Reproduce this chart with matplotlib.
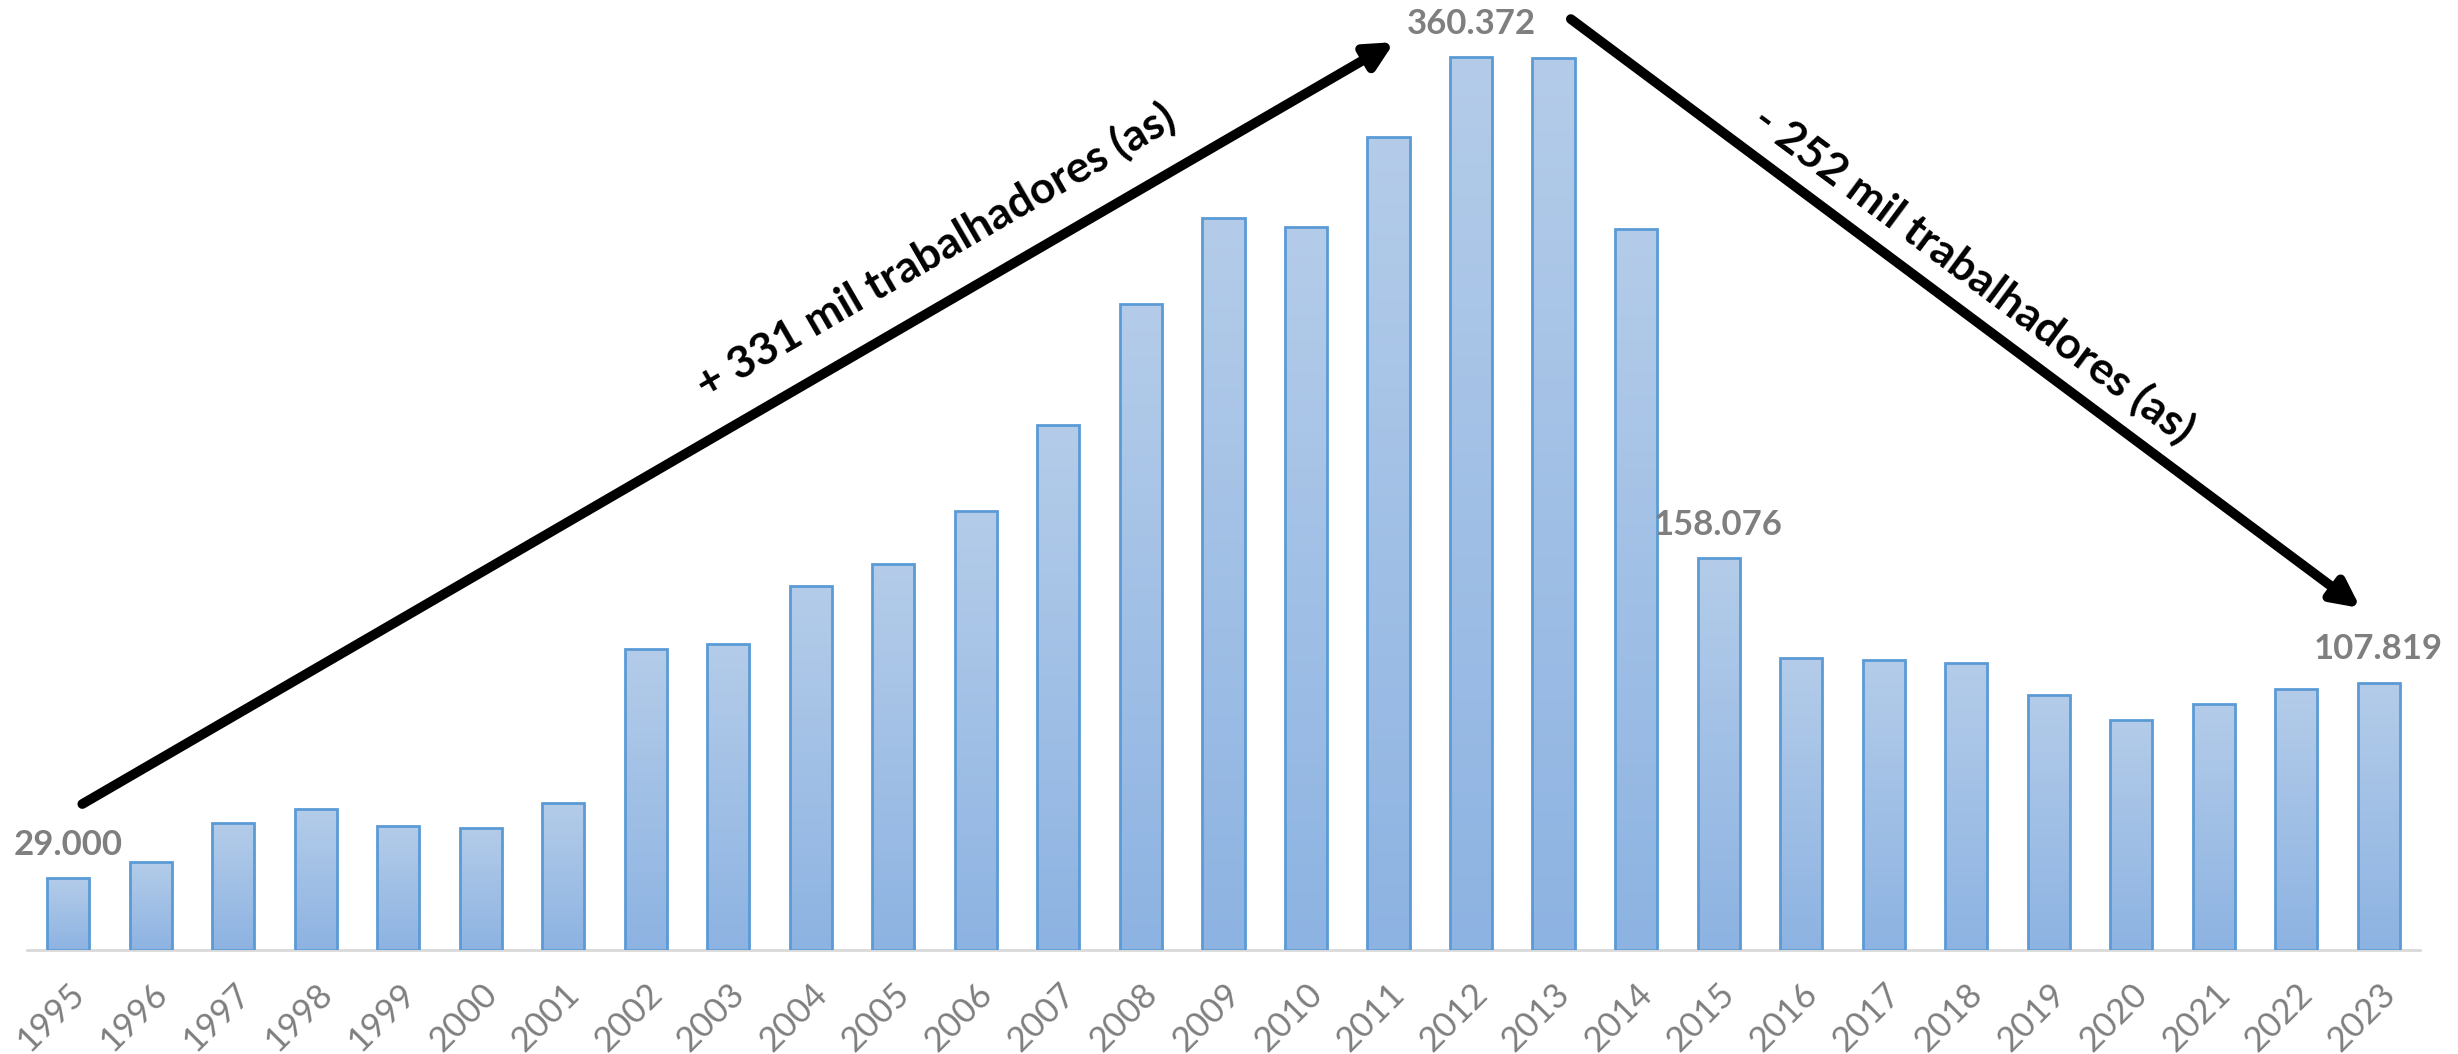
import numpy as np
import matplotlib.pyplot as plt
from matplotlib.colors import LinearSegmentedColormap

plt.rcParams['font.family'] = ['Lato', 'DejaVu Sans']

# dados: trabalhadores(as) por ano
anos = [str(a) for a in range(1995, 2024)]
valores = [29000, 35400, 51200, 56900, 50000, 49300, 59500, 121500, 123400,
           146800, 155600, 177100, 211900, 260600, 295400, 291600, 328300,
           360372, 359800, 291000, 158076, 117700, 117000, 115800, 103100,
           93000, 99300, 105500, 107819]
destaques = [0, 17, 20, 28]  # barras com rotulo

fig = plt.figure(figsize=(24.58, 10.54), dpi=100)
ax = fig.add_axes([0.011, 0.0987, 0.9735, 0.9013])

x = np.arange(len(valores))
bars = ax.bar(x, valores, width=0.51, color='none', edgecolor='#5b9bd5', linewidth=2, zorder=3)

# gradiente vertical dentro das barras
cmap = LinearSegmentedColormap.from_list('grad', ['#8db3e2', '#b4cce9'])
grad = np.linspace(0, 1, 256).reshape(-1, 1)
for b in bars:
    x0, w, h = b.get_x(), b.get_width(), b.get_height()
    im = ax.imshow(grad, cmap=cmap, origin='lower', aspect='auto',
                   extent=[x0, x0 + w, 0, h], zorder=2)
    im.set_clip_path(b)

ax.set_xlim(-0.5, len(valores) - 0.5)
ax.set_ylim(0, 383400)

for s in ['top', 'right', 'left']:
    ax.spines[s].set_visible(False)
ax.spines['bottom'].set_color('#d9d9d9')
ax.spines['bottom'].set_linewidth(2)
ax.set_yticks([])
ax.set_xticks(x)
ax.set_xticklabels(anos, rotation=45, ha='right', rotation_mode='anchor',
                   fontsize=25, color='#7f7f7f')
ax.tick_params(axis='x', length=0, pad=20)

for i in destaques:
    ax.annotate(f'{valores[i]:,}'.replace(',', '.'), (x[i], valores[i]),
                xytext=(0, 24), textcoords='offset points', ha='center', va='center',
                fontsize=25, fontweight='bold', color='#7f7f7f')

# setas
ax.annotate('', xy=(16.07, 366400), xytext=(0.17, 58900),
            arrowprops=dict(arrowstyle='-|>', lw=7, color='black', mutation_scale=40,
                            shrinkA=0, shrinkB=0), zorder=5)
ax.annotate('', xy=(27.78, 138000), xytext=(18.21, 375700),
            arrowprops=dict(arrowstyle='-|>', lw=7, color='black', mutation_scale=40,
                            shrinkA=0, shrinkB=0), zorder=5)

ax.text(10.51, 282100, '+ 331 mil trabalhadores (as)', rotation=30.1,
        ha='center', va='center', fontsize=32, fontweight='bold', rotation_mode='anchor')
ax.text(23.09, 272800, '- 252 mil trabalhadores (as)', rotation=-36.6,
        ha='center', va='center', fontsize=32, fontweight='bold', rotation_mode='anchor')

fig.savefig('out.png', dpi=100)
